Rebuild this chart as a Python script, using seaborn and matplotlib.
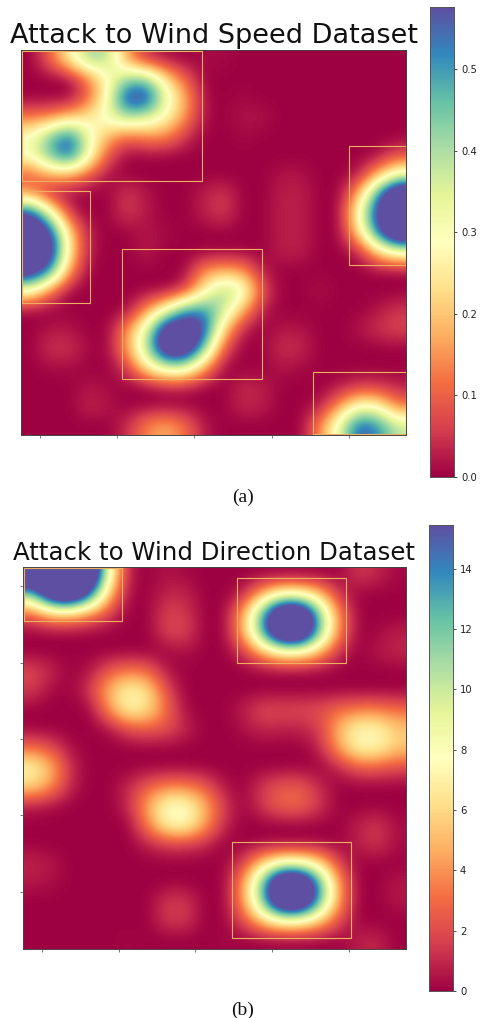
import numpy as np
import seaborn as sns
import matplotlib.pyplot as plt
from matplotlib.patches import Rectangle

# Attention values, 20 x 20 cells
speed_grid = [
    [0, .10, .26, .42, .40, .15, .04, .01, 0, .01, .01, 0, 0, 0, 0, 0, 0, 0, 0, 0],
    [0, 0, 0, .12, .28, .42, .44, .24, .10, 0, 0, 0, 0, 0, 0, 0, 0, 0, 0, 0],
    [0, 0, 0, .10, .30, .62, .62, .34, .18, .01, 0, .01, 0, 0, 0, 0, 0, 0, 0, 0],
    [.12, .14, .20, .25, .32, .40, .36, .28, .15, .01, 0, .02, .02, 0, 0, 0, 0, 0, 0, 0],
    [.30, .45, .58, .32, .18, .10, .14, .14, .05, 0, 0, .01, 0, 0, 0, 0, 0, 0, 0, 0],
    [.30, .46, .58, .32, .08, 0, 0, 0, 0, 0, 0, 0, 0, 0, 0, 0, 0, 0, .01, .08],
    [.08, .16, .16, .08, .01, 0, 0, 0, 0, 0, 0, 0, 0, .02, .02, 0, 0, .02, .18, .33],
    [.16, .02, 0, 0, 0, .06, .02, 0, 0, .03, .06, 0, 0, .03, .03, 0, 0, .18, .52, .80],
    [.62, .35, .05, 0, 0, .06, .02, 0, 0, .03, .06, 0, 0, .03, .03, 0, 0, .30, .62, .80],
    [.75, .62, .22, .02, 0, 0, .02, .01, 0, 0, 0, 0, 0, .03, .03, 0, 0, .22, .55, .80],
    [.75, .68, .24, .02, 0, 0, .03, 0, 0, 0, 0, 0, 0, .03, .03, 0, 0, .02, .20, .30],
    [.68, .52, .15, 0, 0, 0, 0, 0, 0, .15, .18, .16, .02, 0, 0, 0, 0, 0, 0, 0],
    [.30, .12, 0, 0, 0, 0, 0, 0, .05, .26, .42, .34, .08, 0, 0, .02, 0, 0, 0, 0],
    [0, 0, 0, 0, 0, 0, .14, .30, .50, .52, .38, .18, .02, 0, 0, 0, 0, 0, .02, .05],
    [0, .02, .02, 0, 0, .14, .34, .68, .72, .60, .22, .02, 0, .02, .02, 0, 0, .02, .05, .07],
    [0, .05, .05, .01, 0, .16, .40, .72, .74, .45, .08, 0, 0, .05, .04, 0, 0, 0, 0, 0],
    [0, .01, .01, 0, 0, .05, .24, .36, .36, .16, 0, 0, 0, .02, .01, 0, 0, 0, 0, 0],
    [0, 0, 0, .02, .01, 0, 0, .02, .02, 0, 0, .04, .03, 0, 0, 0, .02, .05, .05, .03],
    [0, 0, 0, .04, .02, 0, 0, 0, 0, 0, 0, .04, .03, 0, 0, .02, .15, .30, .28, .12],
    [0, 0, 0, 0, 0, .04, .14, .18, .12, .02, 0, 0, 0, 0, 0, .14, .34, .58, .52, .38],
]
direction_grid = [
    [22, 24, 24, 22, 8, .5, 0, .5, .2, 0, 0, 0, 0, 0, 0, 0, 0, 1.5, 1, .2],
    [11, 20, 22, 15, 5, .2, 0, 1, 1, 0, 0, .8, 5, 8, 8, 5.5, 1.2, 0, 0, 0],
    [2.5, 5, 5, 3.5, 1.5, 0, 0, 1.8, 1.5, 0, 0, 4.5, 13, 22, 22, 12, 3.5, 0, 0, 0],
    [0, 0, 0, 0, 0, 0, 0, 1.8, 1.8, 0, 0, 4.5, 13, 22, 22, 12, 3.5, 0, .2, .8],
    [0, 0, 0, 0, 0, 0, 0, 0, .4, 0, 0, 1.2, 4.5, 7, 7, 4.5, 1, 0, .6, 1],
    [2, 1, 0, .5, 2.5, 3.5, 3, .5, 0, 0, 0, 0, 0, 0, 0, 0, 0, 0, 0, 0],
    [1.5, .2, 0, 1.5, 5, 7.5, 6.5, 2, 0, 0, 0, 0, 0, 0, 0, 0, 0, 0, 0, 0],
    [0, 0, 0, 0, 4, 7.5, 6.5, 3, .2, 0, 0, .8, 2, 2, 2, 2.2, 3, 3.5, 3.5, 3],
    [0, 0, 0, 0, .3, 2, 2.5, 2.2, 1, 0, 0, .4, 1, .8, .8, 1.5, 5, 7.5, 7.5, 5.5],
    [3, 2, .3, 0, 0, 0, 0, 0, 0, 0, 0, 0, 0, 0, 0, .8, 4.5, 7.5, 7.5, 5.5],
    [7.5, 5, 1, 0, 0, 0, 0, 0, 0, 0, 0, 0, 0, 0, 0, 0, .8, 2.5, 2.5, 2],
    [6, 4, .8, 0, 0, 1, 2.5, 3.5, 3.5, 2.5, .5, 0, 1.5, 2.5, 2.5, 1, 0, 0, 0, 0],
    [.6, .3, 0, 0, 0, 1, 4.5, 8, 8, 5, 1.5, 0, 1.5, 3, 3, 1.5, 0, 0, 0, 0],
    [0, 0, 0, 0, 0, 0, 3.5, 7.5, 8, 4.5, 1, 0, 0, 0, 0, 0, 0, .8, 1.5, .3],
    [0, 0, 0, 0, 0, 0, .8, 1.5, 1.5, 1, 0, 0, 0, 0, 0, 0, 0, .8, 1.5, .3],
    [1, .6, 0, 0, 0, 0, 0, 0, 0, 0, 0, 1.5, 5.5, 8, 8, 6, 1.5, 0, 0, 0],
    [.6, .4, 0, 0, 0, 0, 0, 0, 0, 0, 0, 4, 12, 22, 22, 13, 4, 0, 0, .6],
    [0, 0, 0, 0, 0, 0, 0, 1.5, 1.5, 0, 0, 4, 12, 22, 22, 13, 4, 0, 0, .6],
    [0, 0, 0, 0, 0, 0, 0, 1.5, 1.5, 0, 0, 2, 5.5, 8, 8, 5.5, 2, 0, 0, 0],
    [0, 0, 0, 0, 0, .2, 0, 0, 0, 0, .2, 0, 0, 0, 0, 0, 0, .8, 1, 0],
]

# Boxes in cell units: x0, y0, x1, y1
speed_boxes = [
    (.03, .05, 9.37, 6.79),
    (.03, 7.34, 3.58, 13.16),
    (5.24, 10.35, 12.51, 17.12),
    (17.02, 4.99, 19.98, 11.16),
    (15.15, 16.75, 19.95, 19.98),
]
direction_boxes = [
    (.03, .05, 5.17, 2.83),
    (11.17, .55, 16.89, 5.03),
    (10.91, 14.42, 17.13, 19.4),
]

speed_ticks = [0.0, 0.1, 0.2, 0.3, 0.4, 0.5]
direction_ticks = [0, 2, 4, 6, 8, 10, 12, 14]
cell_ticks = [1, 5, 9, 13, 17]

W, H = 481, 1018
fig = plt.figure(figsize=(W / 100, H / 100), dpi=100)


def px_axes(x0, y0, x1, y1):
    # pixel box measured from the top left corner of the picture
    return fig.add_axes([x0 / W, 1 - y1 / H, (x1 - x0) / W, (y1 - y0) / H])


def panel(grid, boxes, vmax, ticks, ax_box, cbar_box, left_ticks):
    ax = px_axes(*ax_box)
    cax = px_axes(*cbar_box)
    data = np.array(grid, dtype=float)
    n = data.shape[0]
    sns.heatmap(data, ax=ax, cbar_ax=cax, cmap='Spectral', vmin=0, vmax=vmax,
                xticklabels=False, yticklabels=False, square=False,
                cbar_kws={'ticks': ticks})
    # smooth the same cells the way the original attention map is drawn
    ax.imshow(data, cmap='Spectral', vmin=0, vmax=vmax, interpolation='bicubic',
              extent=(0, n, n, 0), aspect='auto', zorder=2)
    ax.set_xlim(0, n)
    ax.set_ylim(n, 0)
    for spine in ax.spines.values():
        spine.set_visible(True)
        spine.set_linewidth(0.7)
        spine.set_color('#444444')
    ax.set_xticks(cell_ticks)
    ax.set_xticklabels([])
    if left_ticks:
        ax.set_yticks(cell_ticks)
        ax.set_yticklabels([])
    ax.tick_params(length=2, width=0.5, color='#444444')
    for x0, y0, x1, y1 in boxes:
        ax.add_patch(Rectangle((x0, y0), x1 - x0, y1 - y0, fill=False,
                               edgecolor='#eeb060', linewidth=0.8, zorder=3))
    cax.tick_params(length=2.5, width=0.6, labelsize=7.2, pad=2.5, color='#333333',
                    labelcolor='#222222')
    for spine in cax.spines.values():
        spine.set_visible(True)
        spine.set_linewidth(0.6)
        spine.set_color('#555555')
    return ax


panel(speed_grid, speed_boxes, 0.576, speed_ticks, (21, 50, 406.5, 434.5), (430, 7, 454, 477), False)
fig.text(214 / W, 1 - 43 / H, 'Attack to Wind Speed Dataset', ha='center', va='baseline',
         fontsize=19.5, color='#111111')
fig.text(243 / W, 1 - 502 / H, '(a)', ha='center', va='baseline', family='Liberation Serif',
         fontsize=14, color='#111111')

panel(direction_grid, direction_boxes, 15.45, direction_ticks, (23, 567, 406, 949), (429, 525, 453, 991), True)
fig.text(214 / W, 1 - 560 / H, 'Attack to Wind Direction Dataset', ha='center', va='baseline',
         fontsize=17.6, color='#111111')
fig.text(243 / W, 1 - 1015 / H, '(b)', ha='center', va='baseline', family='Liberation Serif',
         fontsize=14, color='#111111')

fig.savefig('out.png', dpi=100)
